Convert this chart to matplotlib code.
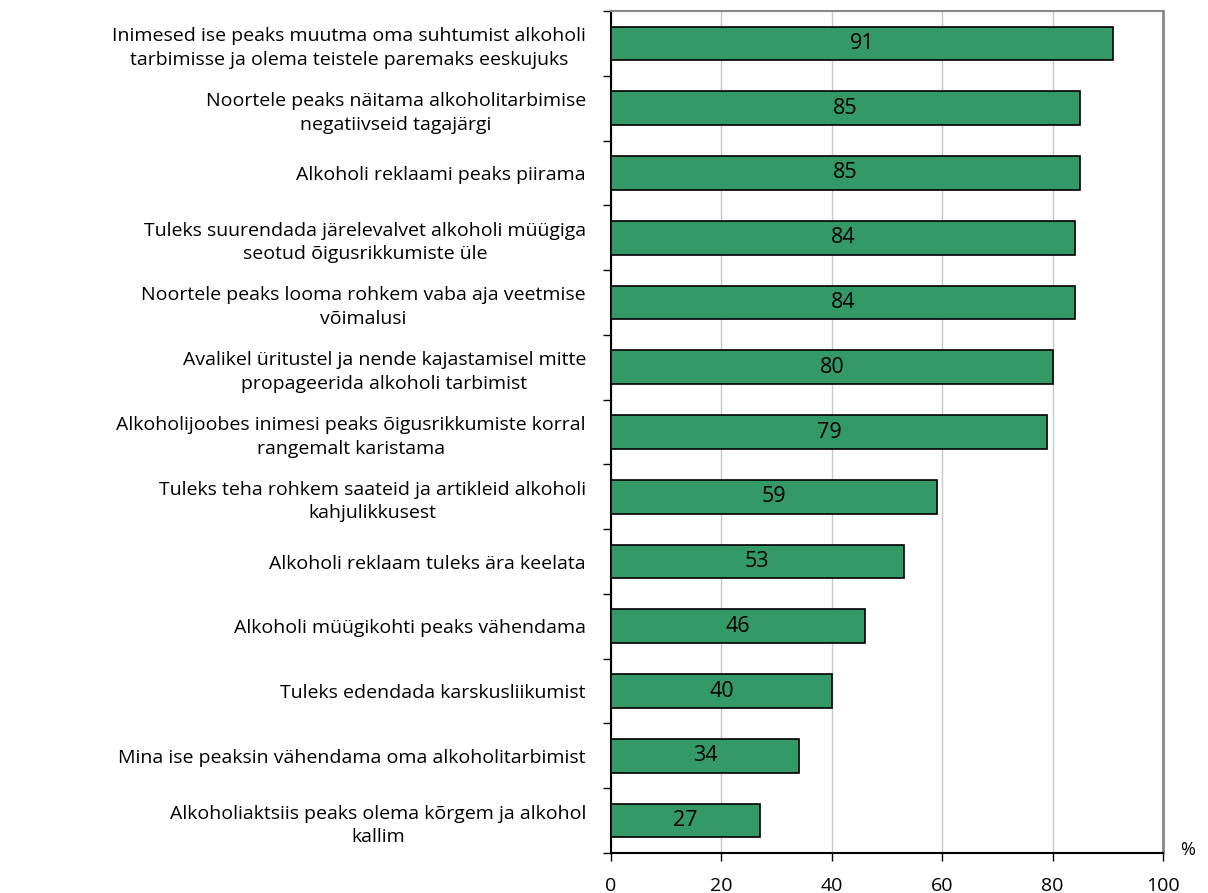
import matplotlib.pyplot as plt
import numpy as np

plt.rcParams['font.family'] = ['Open Sans', 'DejaVu Sans']

labels = [
    "Inimesed ise peaks muutma oma suhtumist alkoholi\ntarbimisse ja olema teistele paremaks eeskujuks",
    "Noortele peaks näitama alkoholitarbimise\nnegatiivseid tagajärgi",
    "Alkoholi reklaami peaks piirama",
    "Tuleks suurendada järelevalvet alkoholi müügiga\nseotud õigusrikkumiste üle",
    "Noortele peaks looma rohkem vaba aja veetmise\nvõimalusi",
    "Avalikel üritustel ja nende kajastamisel mitte\npropageerida alkoholi tarbimist",
    "Alkoholijoobes inimesi peaks õigusrikkumiste korral\nrangemalt karistama",
    "Tuleks teha rohkem saateid ja artikleid alkoholi\nkahjulikkusest",
    "Alkoholi reklaam tuleks ära keelata",
    "Alkoholi müügikohti peaks vähendama",
    "Tuleks edendada karskusliikumist",
    "Mina ise peaksin vähendama oma alkoholitarbimist",
    "Alkoholiaktsiis peaks olema kõrgem ja alkohol\nkallim",
]
values = [91, 85, 85, 84, 84, 80, 79, 59, 53, 46, 40, 34, 27]
xticks = [0, 20, 40, 60, 80, 100]

fig = plt.figure(figsize=(12.08, 8.93), dpi=100)
ax = fig.add_axes([611/1208, 1 - 853/893, 552/1208, 842/893])

n = len(values)
y = np.arange(n)
bars = ax.barh(y, values, height=0.52, color='#339966', edgecolor='black', linewidth=1.2, zorder=3)
for b, v in zip(bars, values):
    ax.text(v/2, b.get_y() + b.get_height()/2, str(v), ha='center', va='center',
            fontsize=15.5, color='black', zorder=4)

ax.set_xlim(0, 100)
ax.set_ylim(n - 0.5, -0.5)
ax.set_xticks(xticks)
ax.set_xticklabels([str(t) for t in xticks], fontsize=14)
ax.tick_params(axis='x', direction='out', length=6, width=1, pad=11, color='black')
ax.set_yticks(y)
ax.set_yticklabels(labels, fontsize=14, multialignment='center', linespacing=1.4)
ax.tick_params(axis='y', which='major', length=0, pad=18)
ax.set_yticks(np.arange(n + 1) - 0.5, minor=True)
ax.tick_params(axis='y', which='minor', direction='out', length=6, width=1, color='black')

ax.grid(axis='x', color='#c8c8c8', linewidth=1, zorder=0)
ax.spines['left'].set_color('black')
ax.spines['left'].set_linewidth(1.5)
ax.spines['bottom'].set_color('black')
ax.spines['bottom'].set_linewidth(1.5)
ax.spines['top'].set_color('#888888')
ax.spines['top'].set_linewidth(1.5)
ax.spines['right'].set_color('#888888')
ax.spines['right'].set_linewidth(2)

fig.text(1188/1208, 1 - 850/893, '%', ha='center', va='center', fontsize=13)

fig.savefig('out.png', dpi=100)
